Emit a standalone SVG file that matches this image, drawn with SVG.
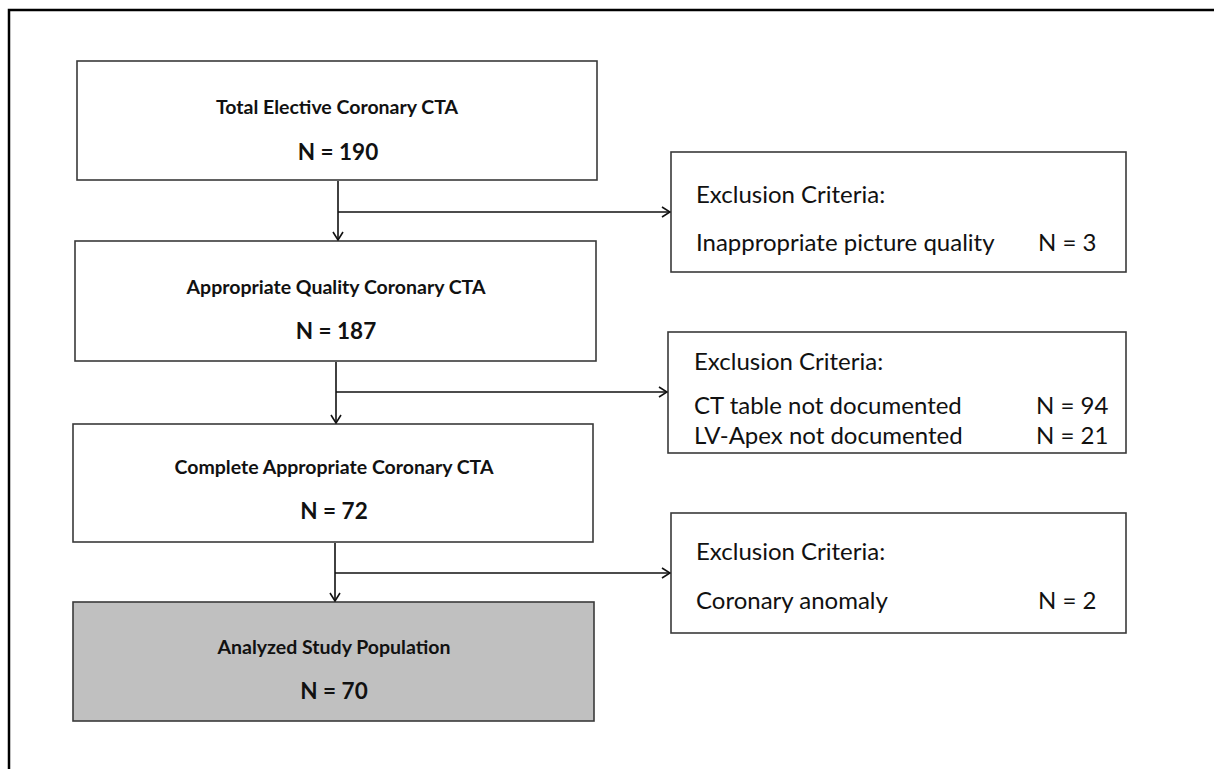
<svg xmlns="http://www.w3.org/2000/svg" width="1214" height="769" viewBox="0 0 1214 769">
<defs>
<style>
.frame{fill:none;stroke:#000;stroke-width:2.5}
.box{fill:#fff;stroke:#3a3a3a;stroke-width:1.6}
.grey{fill:#c0c0c0}
.t{font-family:Lato,"Open Sans","Liberation Sans",sans-serif;font-weight:bold;font-size:19.5px;fill:#111;text-anchor:middle}
.n{font-size:22.5px}
.e{font-family:Lato,"Open Sans","Liberation Sans",sans-serif;font-size:24px;fill:#111}
.c{fill:none;stroke:#111;stroke-width:1.6}
</style>
<marker id="arr" viewBox="0 0 10 12" refX="9" refY="6" markerWidth="10" markerHeight="12" markerUnits="userSpaceOnUse" orient="auto">
<path d="M1,1 L9,6 L1,11" fill="none" stroke="#111" stroke-width="1.6"/>
</marker>
</defs>
<rect width="1214" height="769" fill="#fff"/>
<path class="frame" d="M9,769 L9,10 L1214,10"/>
<g id="n1"><rect class="box" x="77" y="61" width="520" height="119"/><text class="t" x="337" y="114">Total Elective Coronary CTA</text><text class="t n" x="338" y="160">N = 190</text></g>
<g id="n2"><rect class="box" x="75" y="241" width="521" height="120"/><text class="t" x="336" y="294">Appropriate Quality Coronary CTA</text><text class="t n" x="336" y="339">N = 187</text></g>
<g id="n3"><rect class="box" x="73" y="424" width="520" height="118"/><text class="t" x="334" y="474">Complete Appropriate Coronary CTA</text><text class="t n" x="334" y="519">N = 72</text></g>
<g id="n4"><rect class="box grey" x="73" y="602" width="521" height="119"/><text class="t" x="334" y="654">Analyzed Study Population</text><text class="t n" x="334" y="699">N = 70</text></g>
<g id="x1"><rect class="box" x="671" y="152" width="455" height="120"/><text class="e" x="696" y="203">Exclusion Criteria:</text><text class="e" x="696" y="251">Inappropriate picture quality</text><text class="e" x="1038" y="251">N = 3</text></g>
<g id="x2"><rect class="box" x="668" y="332" width="458" height="121"/><text class="e" x="694" y="370">Exclusion Criteria:</text><text class="e" x="694" y="414">CT table not documented</text><text class="e" x="1036" y="414">N = 94</text><text class="e" x="694" y="444">LV-Apex not documented</text><text class="e" x="1036" y="444">N = 21</text></g>
<g id="x3"><rect class="box" x="671" y="513" width="455" height="120"/><text class="e" x="696" y="560">Exclusion Criteria:</text><text class="e" x="696" y="609">Coronary anomaly</text><text class="e" x="1038" y="609">N = 2</text></g>
<g id="connectors">
<path class="c" d="M338,181 L338,240" marker-end="url(#arr)"/>
<path class="c" d="M338,212 L670,212" marker-end="url(#arr)"/>
<path class="c" d="M336,362 L336,423" marker-end="url(#arr)"/>
<path class="c" d="M336,392 L667,392" marker-end="url(#arr)"/>
<path class="c" d="M335,543 L335,601" marker-end="url(#arr)"/>
<path class="c" d="M335,573 L670,573" marker-end="url(#arr)"/>
</g>
</svg>
